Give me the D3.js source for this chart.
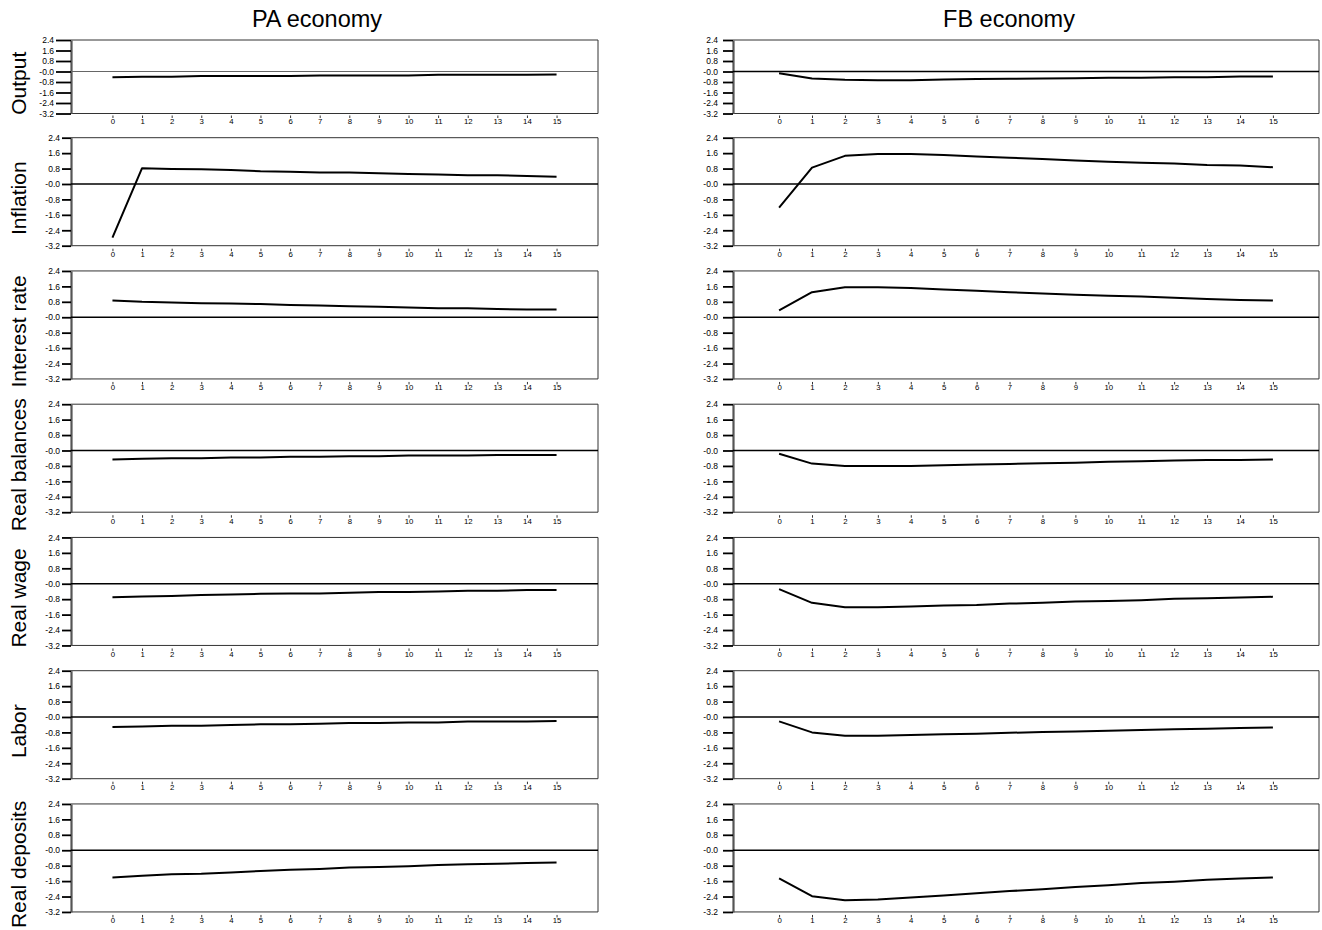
<!DOCTYPE html>
<html><head><meta charset="utf-8">
<script src="https://cdn.jsdelivr.net/npm/d3@7"></script>
<style>body{margin:0;background:#fff}svg{display:block}text{font-family:"Liberation Sans",Arial,sans-serif}</style>
</head><body>
<svg id="c" width="1322" height="930"></svg>
<script>
const periods = [0,1,2,3,4,5,6,7,8,9,10,11,12,13,14,15];
const variables = ["Output","Inflation","Interest rate","Real balances","Real wage","Labor","Real deposits"];
const economies = ["PA economy","FB economy"];
const yTickValues = [2.4,1.6,0.8,0.0,-0.8,-1.6,-2.4,-3.2];
const yTickLabels = ["2.4","1.6","0.8","-0.0","-0.8","-1.6","-2.4","-3.2"];
const xTickLabels = ["0","1","2","3","4","5","6","7","8","9","10","11","12","13","14","15"];

// PA economy responses
const paOutput   = [-0.43,-0.40,-0.40,-0.35,-0.35,-0.35,-0.35,-0.30,-0.30,-0.30,-0.30,-0.25,-0.25,-0.25,-0.25,-0.23];
const paInflation= [-2.78,0.82,0.78,0.77,0.73,0.66,0.63,0.59,0.59,0.56,0.52,0.49,0.45,0.45,0.42,0.38];
const paInterest = [0.87,0.80,0.77,0.73,0.71,0.68,0.64,0.61,0.57,0.54,0.50,0.47,0.47,0.43,0.40,0.40];
const paBalances = [-0.47,-0.43,-0.40,-0.40,-0.37,-0.37,-0.33,-0.33,-0.30,-0.30,-0.26,-0.26,-0.26,-0.23,-0.23,-0.23];
const paWage     = [-0.70,-0.66,-0.63,-0.59,-0.56,-0.52,-0.50,-0.50,-0.47,-0.43,-0.43,-0.40,-0.37,-0.37,-0.33,-0.33];
const paLabor    = [-0.52,-0.49,-0.45,-0.45,-0.42,-0.38,-0.38,-0.35,-0.31,-0.31,-0.28,-0.28,-0.24,-0.24,-0.24,-0.21];
const paDeposits = [-1.41,-1.32,-1.25,-1.22,-1.15,-1.08,-1.01,-0.97,-0.90,-0.87,-0.83,-0.77,-0.73,-0.70,-0.66,-0.63];

// FB economy responses
const fbOutput   = [-0.13,-0.53,-0.63,-0.66,-0.66,-0.61,-0.58,-0.56,-0.53,-0.51,-0.48,-0.48,-0.43,-0.43,-0.38,-0.38];
const fbInflation= [-1.22,0.85,1.46,1.55,1.55,1.50,1.43,1.36,1.29,1.22,1.15,1.10,1.06,0.99,0.96,0.87];
const fbInterest = [0.35,1.30,1.55,1.55,1.51,1.44,1.37,1.30,1.23,1.17,1.11,1.08,1.01,0.94,0.90,0.87];
const fbBalances = [-0.17,-0.68,-0.80,-0.80,-0.80,-0.77,-0.73,-0.70,-0.66,-0.63,-0.59,-0.56,-0.52,-0.49,-0.49,-0.47];
const fbWage     = [-0.28,-0.99,-1.22,-1.22,-1.18,-1.13,-1.10,-1.03,-0.99,-0.92,-0.89,-0.85,-0.78,-0.75,-0.71,-0.68];
const fbLabor    = [-0.23,-0.80,-0.97,-0.97,-0.94,-0.90,-0.87,-0.82,-0.78,-0.75,-0.71,-0.68,-0.64,-0.61,-0.57,-0.54];
const fbDeposits = [-1.46,-2.38,-2.59,-2.56,-2.45,-2.35,-2.23,-2.12,-2.02,-1.91,-1.81,-1.70,-1.63,-1.53,-1.46,-1.41];

const series = [
  [paOutput,paInflation,paInterest,paBalances,paWage,paLabor,paDeposits],
  [fbOutput,fbInflation,fbInterest,fbBalances,fbWage,fbLabor,fbDeposits]
];

const svg = d3.select("#c");
const cols = [
  {x0:71, x1:598, title:317, tickLen:9, pad:2, fs:8.5},
  {x0:733, x1:1319, title:1009, tickLen:10, pad:5, fs:8.5}
];
const rows = variables.map((v,i)=> i===0 ? {top:40, bottom:113.5} : {top:137.7+133.25*(i-1), bottom:137.7+133.25*(i-1)+108});

// column titles
cols.forEach((c,ci)=>{
  svg.append("text").attr("x",c.title).attr("y",27).attr("text-anchor","middle")
    .attr("font-size",23.5).attr("fill","#000").text(economies[ci]);
});

// row labels
rows.forEach((r,ri)=>{
  const cy = (r.top + r.bottom + 13)/2;
  svg.append("text").attr("transform",`translate(26,${cy}) rotate(-90)`)
    .attr("text-anchor","middle").attr("font-size",21).attr("fill","#000").text(variables[ri]);
});

cols.forEach((c,ci)=>{
  rows.forEach((r,ri)=>{
    const x = d3.scaleLinear().domain([-1.4,16.4]).range([c.x0,c.x1]);
    const y = d3.scaleLinear().domain([-3.2,2.4]).range([r.bottom,r.top]);
    const g = svg.append("g");

    // frame: top, right, bottom
    g.append("path").attr("d",`M${c.x0},${r.top}H${c.x1}V${r.bottom}H${c.x0}`)
      .attr("fill","none").attr("stroke","#333").attr("stroke-width",1);

    // y axis
    const ya = d3.axisLeft(y).tickValues(yTickValues)
      .tickFormat((d,i)=>yTickLabels[i]).tickSize(ri===0 && ci===0 ? 15 : c.tickLen).tickSizeOuter(0).tickPadding(c.pad);
    const yg = g.append("g").attr("transform",`translate(${c.x0},0)`).call(ya);
    yg.select(".domain").attr("stroke","#555").attr("stroke-width",2.2);
    yg.selectAll(".tick line").attr("stroke","#000").attr("stroke-width",1.8);
    yg.selectAll(".tick text").attr("font-size",c.fs).attr("fill","#000")
      .attr("font-family","'Liberation Sans',Arial,sans-serif");

    // x axis ticks/labels
    const xa = d3.axisBottom(x).tickValues(periods).tickFormat((d,i)=>xTickLabels[i])
      .tickSize(2.5).tickPadding(0.5);
    const xg = g.append("g").attr("transform",`translate(0,${r.bottom+(ri===0?2:3)})`).call(xa);
    xg.select(".domain").remove();
    xg.selectAll(".tick line").attr("stroke","#333").attr("stroke-width",1);
    xg.selectAll(".tick text").attr("font-size",7.8).attr("fill","#000")
      .attr("font-family","'Liberation Sans',Arial,sans-serif");

    // zero line
    const light = (ci===0 && ri===0);
    g.append("line").attr("x1",c.x0).attr("x2",c.x1).attr("y1",y(0)).attr("y2",y(0))
      .attr("stroke", light ? "#666" : "#000").attr("stroke-width", light ? 1 : 1.6);

    // response line
    const vals = series[ci][ri];
    const line = d3.line().x((d,i)=>x(periods[i])).y(d=>y(d));
    g.append("path").datum(vals).attr("d",line)
      .attr("fill","none").attr("stroke","#000").attr("stroke-width",2).attr("stroke-linejoin","round");
  });
});
</script>
</body></html>
